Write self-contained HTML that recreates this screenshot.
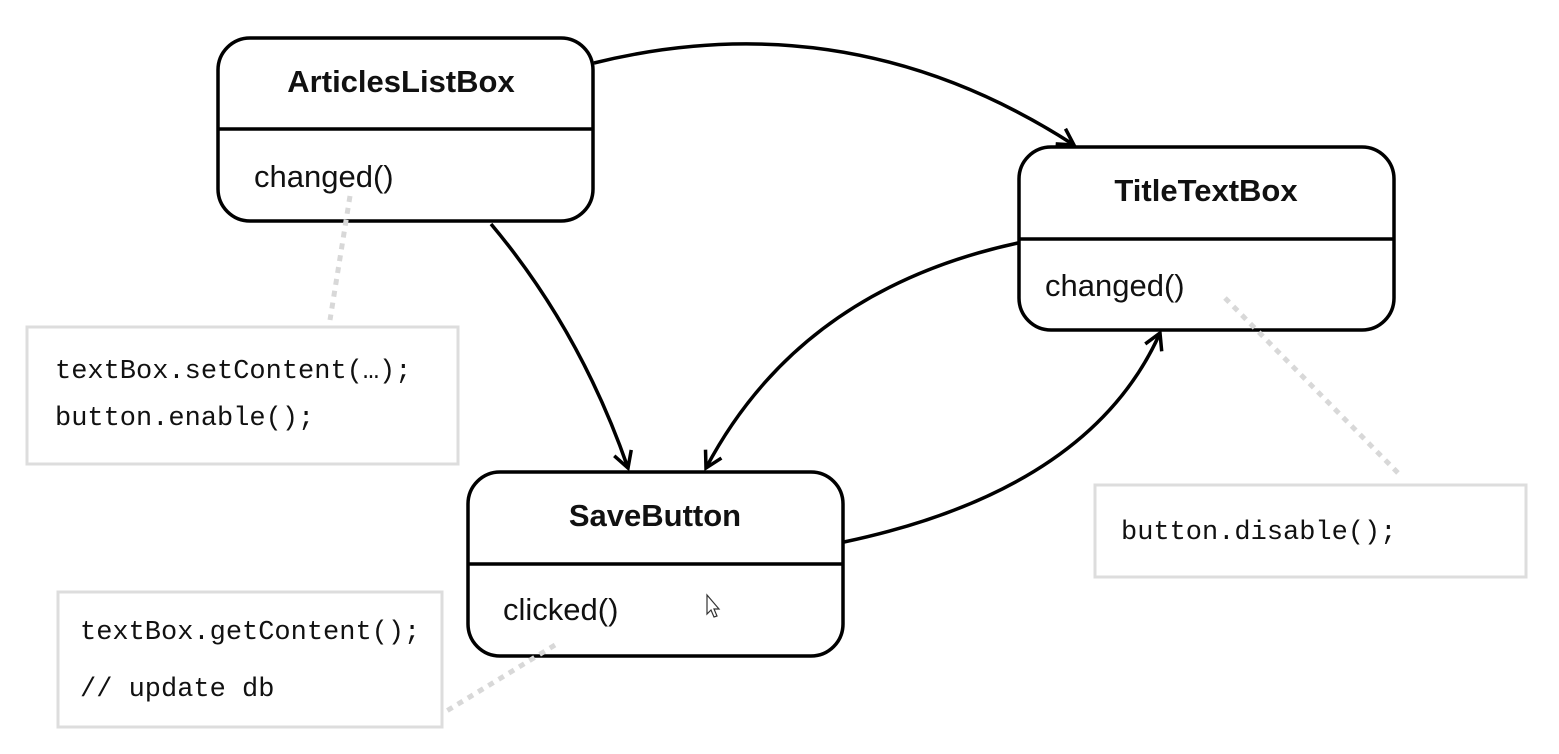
<!DOCTYPE html>
<html><head><meta charset="utf-8"><style>
html,body{margin:0;padding:0;background:#fff;width:1559px;height:754px;overflow:hidden}
</style></head><body>
<svg width="1559" height="754" viewBox="0 0 1559 754" xmlns="http://www.w3.org/2000/svg">
<defs>
<marker id="a" markerWidth="22" markerHeight="22" refX="18" refY="11" orient="auto" markerUnits="userSpaceOnUse">
<path d="M2,2 L18,11 L2,20" fill="none" stroke="#000" stroke-width="3.5"/>
</marker>
</defs>
<g fill="#fff" stroke="#ddd" stroke-width="3">
<rect x="27" y="327" width="431" height="137"/>
<rect x="1095" y="485" width="431" height="92"/>
<rect x="58" y="592" width="384" height="135"/>
</g>
<g fill="none" stroke="#000" stroke-width="3.5" marker-end="url(#a)">
<path d="M594,63 Q850,0 1074,145"/>
<path d="M491,224 Q580,330 628,468"/>
<path d="M1018,243 Q800,290 706,468"/>
<path d="M844,542 Q1090,490 1160,333"/>
</g>
<g fill="#fff" stroke="#000" stroke-width="3.5">
<rect x="218" y="38" width="375" height="183" rx="32"/>
<line x1="218" y1="129" x2="593" y2="129"/>
<rect x="1019" y="147" width="375" height="183" rx="32"/>
<line x1="1019" y1="239" x2="1394" y2="239"/>
<rect x="468" y="472" width="375" height="184" rx="32"/>
<line x1="468" y1="564" x2="843" y2="564"/>
</g>
<g fill="none" stroke="#d8d8d8" stroke-width="5" stroke-dasharray="6,6">
<path d="M350,196 L330,320"/>
<path d="M1225,298 L1400,475"/>
<path d="M555,645 L445,712"/>
</g>
<g font-family="Liberation Sans, sans-serif" fill="#111" font-size="31">
<text x="401" y="92" text-anchor="middle" font-weight="bold">ArticlesListBox</text>
<text x="1206" y="201" text-anchor="middle" font-weight="bold">TitleTextBox</text>
<text x="655" y="526" text-anchor="middle" font-weight="bold">SaveButton</text>
<text x="254" y="187" font-size="31">changed()</text>
<text x="1045" y="296" font-size="31">changed()</text>
<text x="503" y="620" font-size="31">clicked()</text>
</g>
<g font-family="Liberation Mono, monospace" fill="#111" font-size="27">
<text x="55" y="378">textBox.setContent(…);</text>
<text x="55" y="425">button.enable();</text>
<text x="1121" y="539">button.disable();</text>
<text x="80" y="639">textBox.getContent();</text>
<text x="80" y="696">// update db</text>
</g>
<path d="M707,595 L707,614 L711,610 L714,617 L717,616 L714,609 L719,609 Z" fill="#fff" stroke="#333" stroke-width="1.2"/>
</svg>
</body></html>
